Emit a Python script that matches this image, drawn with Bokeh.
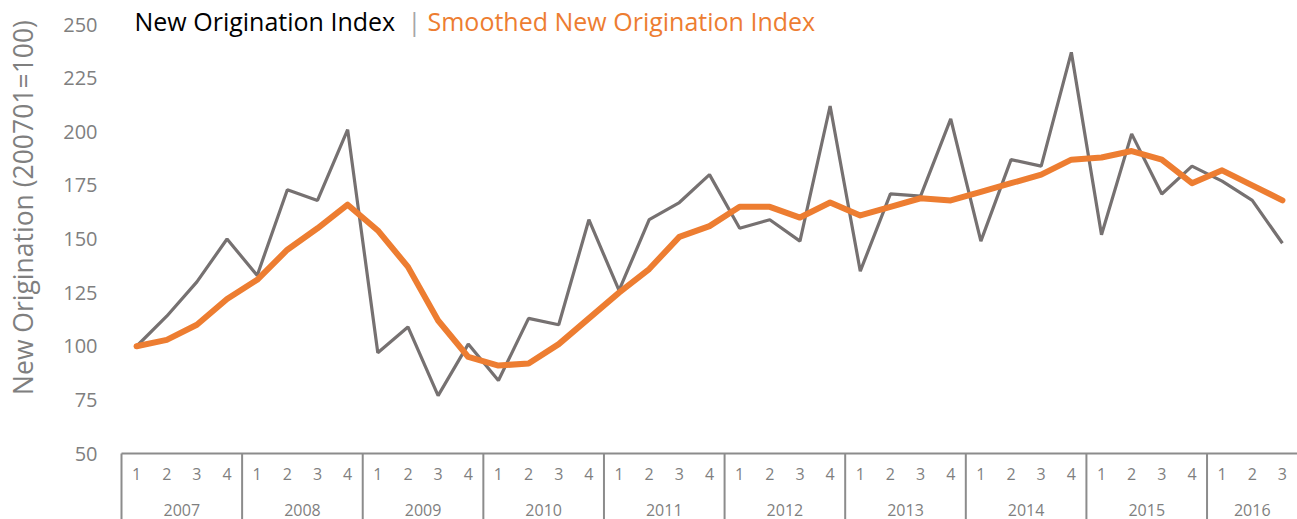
import math
from bokeh.plotting import figure
from bokeh.models import Range1d
from bokeh.core.properties import value
from bokeh.embed import file_html
from bokeh.resources import INLINE

years = ["2007", "2008", "2009", "2010", "2011", "2012", "2013", "2014", "2015", "2016"]
quarters_per_year = [4, 4, 4, 4, 4, 4, 4, 4, 4, 3]
index_values = [100, 114, 130, 150, 133, 173, 168, 201, 97, 109, 77, 101,
                84, 113, 110, 159, 126, 159, 167, 180, 155, 159, 149, 212,
                135, 171, 170, 206, 149, 187, 184, 237, 152, 199, 171, 184,
                177, 168, 148]
smoothed_values = [100, 103, 110, 122, 131, 145, 155, 166, 154, 137, 112, 95,
                   91, 92, 101, 113, 125, 136, 151, 156, 165, 165, 160, 167,
                   161, 165, 169, 168, 172, 176, 180, 187, 188, 191, 187, 176,
                   182, 175, 168]
y_ticks = [50, 75, 100, 125, 150, 175, 200, 225, 250]

FONT = "Open Sans"
GRAY = "#767171"
ORANGE = "#ED7D31"
TXT = "#7f7f7f"
AXC = "#8c8c8c"

W, H = 1297, 519
n = len(index_values)
xs = list(range(n))

# pixel layout of the plotting region inside the canvas
left_px = 121.0
unit_px = (W - left_px) / n          # width of one quarter slot
x_lo = -0.5 - left_px / unit_px
x_hi = n - 0.5
px_per_val = 2.145
y_hi = 50 + 453 / px_per_val
y_lo = 50 - (H - 453) / px_per_val

def xpx(px):
    return x_lo + px / unit_px

def ypx(py):
    return y_hi - py / px_per_val

p = figure(width=W, height=H, output_backend="svg", toolbar_location=None,
           x_range=Range1d(x_lo, x_hi), y_range=Range1d(y_lo, y_hi),
           x_axis_location=None, y_axis_location=None,
           min_border_left=0, min_border_right=0, min_border_top=0, min_border_bottom=0)
p.grid.visible = False
p.outline_line_color = None
p.background_fill_color = "white"
p.border_fill_color = "white"

# value axis labels
p.text(x=[xpx(97)] * len(y_ticks), y=y_ticks, text=[str(t) for t in y_ticks],
       text_font=value(FONT), text_font_size=value("20px"), text_color=TXT,
       text_align="right", text_baseline="middle")

# category axis box (Excel-style grouped axis)
base = y_ticks[0]
p.segment(x0=[-0.5], y0=[base], x1=[n - 0.5], y1=[base], line_color=AXC, line_width=2)
starts = []
s = 0
for q in quarters_per_year:
    starts.append(s)
    s += q
sep_x = [st - 0.5 for st in starts]
p.segment(x0=sep_x, y0=[base] * len(sep_x), x1=sep_x, y1=[y_lo] * len(sep_x),
          line_color=AXC, line_width=2)

q_labels = []
q_x = []
for st, q in zip(starts, quarters_per_year):
    for k in range(q):
        q_labels.append(str(k + 1))
        q_x.append(st + k)
p.text(x=q_x, y=[ypx(473)] * len(q_x), text=q_labels, text_font=value(FONT),
       text_font_size=value("16px"), text_color=TXT, text_align="center", text_baseline="middle")
year_x = [st + (q - 1) / 2 for st, q in zip(starts, quarters_per_year)]
p.text(x=year_x, y=[ypx(509)] * len(year_x), text=years, text_font=value(FONT),
       text_font_size=value("16px"), text_color=TXT, text_align="center", text_baseline="middle")

# series
p.line(xs, index_values, line_color=GRAY, line_width=3.2)
p.line(xs, smoothed_values, line_color=ORANGE, line_width=6, line_join="round", line_cap="round")

# title
ty = ypx(20)
p.text(x=[xpx(134)], y=[ty], text=["New Origination Index"], text_font=value(FONT),
       text_font_size=value("25px"), text_color="black", text_baseline="middle")
p.text(x=[xpx(407)], y=[ty], text=["|"], text_font=value(FONT),
       text_font_size=value("25px"), text_color="#a6a6a6", text_baseline="middle")
p.text(x=[xpx(427)], y=[ty], text=["Smoothed New Origination Index"], text_font=value(FONT),
       text_font_size=value("25px"), text_color=ORANGE, text_baseline="middle")

# value axis title
p.text(x=[xpx(22.5)], y=[ypx(207)], text=["New Origination (200701=100)"], text_font=value(FONT),
       text_font_size=value("26.5px"), text_color=TXT, angle=math.pi / 2,
       text_align="center", text_baseline="middle")

open("out.html", "w").write(file_html(p, INLINE))
